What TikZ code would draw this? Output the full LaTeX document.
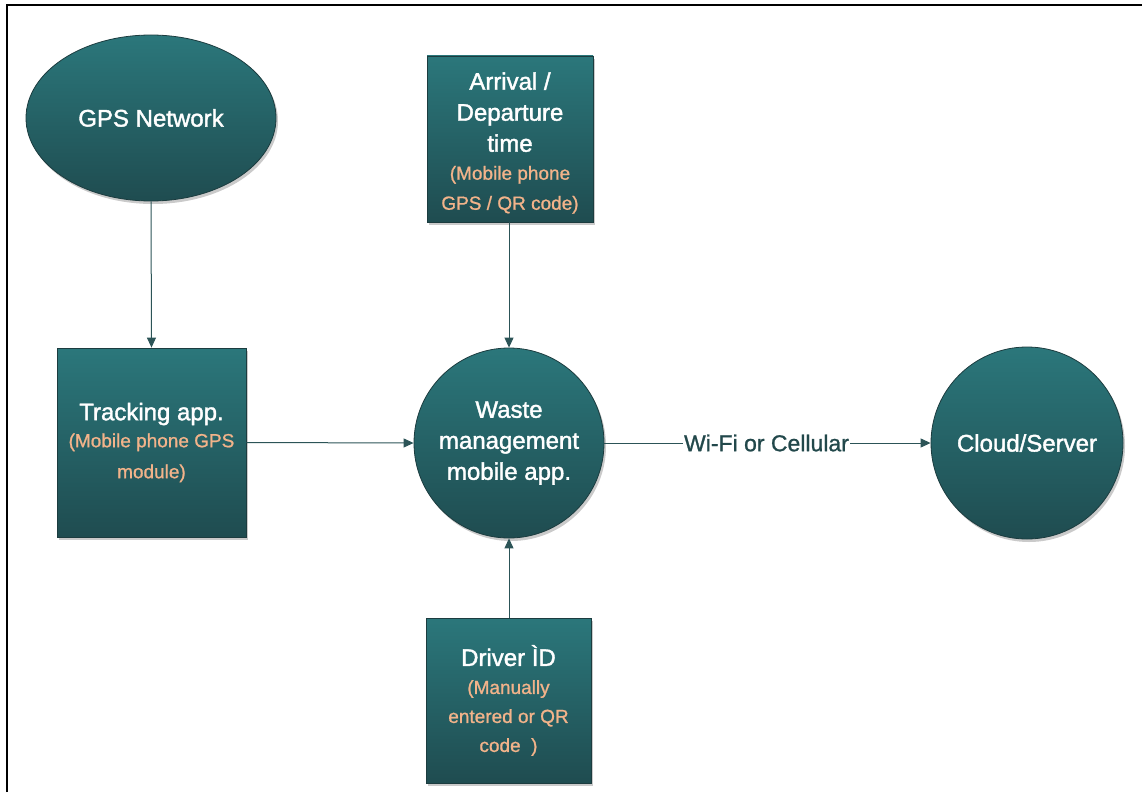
\documentclass[tikz,border=0pt]{standalone}
\usepackage{fontspec}
\setmainfont{Liberation Sans}
\newfontfamily\medfont[FakeBold=1.6]{Liberation Sans}
\newfontfamily\subfont[FakeBold=1.0]{Liberation Sans}
\usetikzlibrary{shapes.geometric,arrows.meta,shadows}

\definecolor{tealtop}{HTML}{2B777B}
\definecolor{tealbot}{HTML}{1F4C50}
\definecolor{tealedge}{HTML}{1C3C3F}
\definecolor{linkcol}{HTML}{2C5457}
\definecolor{peach}{HTML}{F2B38A}
\definecolor{labelcol}{HTML}{22484B}

\tikzset{
  unit/.style={draw=tealedge, line width=0.8pt, top color=tealtop, bottom color=tealbot,
    text=white, align=center, inner sep=0pt,
    drop shadow={shadow xshift=2pt, shadow yshift=-3pt, opacity=0.35, fill=black!60},
    font=\medfont\fontsize{24}{31}\selectfont},
  boxnode/.style={unit, rectangle, minimum width=#1, minimum height=#1},
  roundnode/.style={unit, circle, minimum size=#1},
  ovalnode/.style={unit, ellipse, minimum width=250pt, minimum height=166pt},
  link/.style={draw=linkcol, line width=1pt, -{Triangle[length=10pt,width=9pt]}}
}
\newcommand{\subtxt}[1]{{\color{peach}\subfont\fontsize{19}{29}\selectfont #1}}

\begin{document}
\begin{tikzpicture}[x=1pt,y=-1pt]
  \useasboundingbox (0,0) rectangle (1142,792);
  % outer frame (top and left edges)
  \draw[line width=1.5pt] (7,792) -- (7,5) -- (1142,5);

  \node[ovalnode] (gps) at (151,118) {GPS Network};

  \node[boxnode=166pt] (arr) at (510,139) {};
  \node[text=white, align=center, font=\medfont\fontsize{24}{31}\selectfont] (arrtxt)
    at (510,143) {Arrival /\\Departure\\time\\[-3pt]
    \subtxt{(Mobile phone}\\[-1pt]\subtxt{GPS / QR code)}};

  \node[boxnode=189pt] (trk) at (151.5,442.5) {Tracking app.\\[-4pt]
    \subtxt{(Mobile phone GPS}\\[0pt]\subtxt{module)}};

  \node[roundnode=190pt] (app) at (509,443) {Waste\\management\\mobile app.};

  \node[roundnode=192pt] (cloud) at (1027,443) {Cloud/Server};

  \node[boxnode=165pt] (drv) at (508.5,700.5) {Driver ÌD\\[-3pt]
    \subtxt{(Manually}\\[-2pt]\subtxt{entered or QR}\\[-2pt]\subtxt{code~~)}};

  % connectors
  \draw[link] (gps.south) -- (trk.north);
  \draw[link] (arr.south -| app.north) -- (app.north);
  \draw[link] (trk.east) -- (app.west);
  \draw[link] (drv.north -| app.south) -- (app.south);
  \draw[link] (app.east) -- node[fill=white, inner sep=1pt, text=labelcol,
    font=\subfont\fontsize{23}{26}\selectfont, xshift=-1pt] {Wi-Fi or Cellular} (cloud.west);
\end{tikzpicture}
\end{document}
